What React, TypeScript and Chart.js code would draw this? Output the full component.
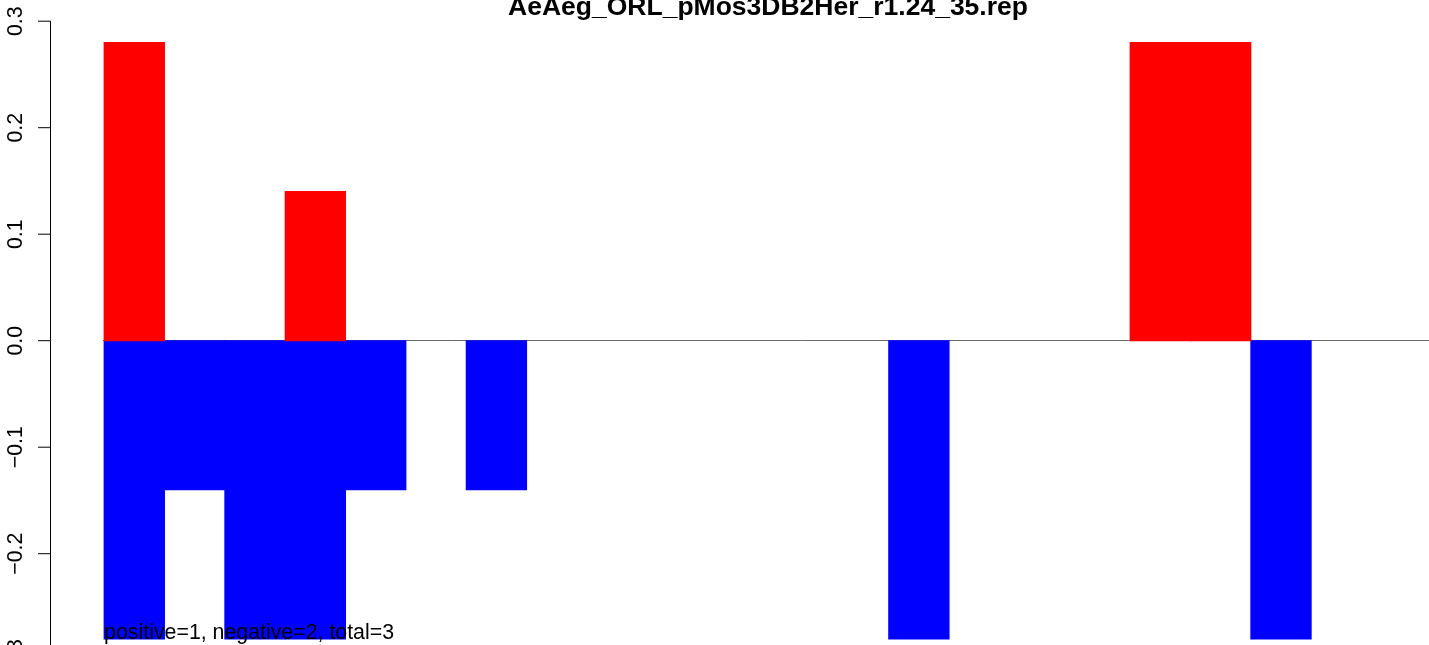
import React, { useEffect, useRef } from "react";
import { Chart, registerables } from "chart.js";

Chart.register(...registerables);

const categories = ["1", "2", "3", "4", "5", "6", "7", "8", "9", "10", "11", "12", "13", "14", "15", "16", "17", "18", "19", "20", "21", "22"];
const positiveValues = [0.28, 0, 0, 0.14, 0, 0, 0, 0, 0, 0, 0, 0, 0, 0, 0, 0, 0, 0.28, 0.28, 0, 0, 0];
const negativeValues = [-0.28, -0.14, -0.28, -0.28, -0.14, 0, -0.14, 0, 0, 0, 0, 0, 0, -0.28, 0, 0, 0, 0, 0, -0.28, 0, 0];
const yTickValues = [0.3, 0.2, 0.1, 0, -0.1, -0.2, -0.3];
const yTickLabels = ["0.3", "0.2", "0.1", "0.0", "\u22120.1", "\u22120.2", "\u22120.3"];
const titleText = "AeAeg_ORL_pMos3DB2Her_r1.24_35.rep";
const noteText = "positive=1, negative=2, total=3";
const noteY = -0.28;

const CW = 1500;
const CH = 700;
const FONT = "'Liberation Sans', Arial, Helvetica, sans-serif";

const rPlugin = {
  id: "rStyle",
  beforeDatasetsDraw(chart: any) {
    const ctx = chart.ctx;
    const xs = chart.scales.x;
    const ys = chart.scales.y;
    const y0 = Math.floor(ys.getPixelForValue(0)) + 0.5;
    ctx.save();
    ctx.strokeStyle = "#6a6a6a";
    ctx.lineWidth = 1;
    ctx.beginPath();
    ctx.moveTo(Math.floor(xs.getPixelForValue(0)) - 1, y0);
    ctx.lineTo(chart.width, y0);
    ctx.stroke();
    ctx.restore();
  },
  afterDraw(chart: any) {
    const ctx = chart.ctx;
    const xs = chart.scales.x;
    const ys = chart.scales.y;
    const axisX = chart.chartArea.left - 0.5;
    ctx.save();
    ctx.strokeStyle = "#000";
    ctx.lineWidth = 1;
    ctx.beginPath();
    ctx.moveTo(axisX, ys.getPixelForValue(yTickValues[0]));
    ctx.lineTo(axisX, ys.getPixelForValue(yTickValues[yTickValues.length - 1]));
    yTickValues.forEach((v) => {
      const py = ys.getPixelForValue(v);
      ctx.moveTo(axisX - 12.5, py);
      ctx.lineTo(axisX, py);
    });
    ctx.stroke();

    ctx.fillStyle = "#000";
    ctx.font = `21.33px ${FONT}`;
    ctx.textAlign = "center";
    ctx.textBaseline = "alphabetic";
    yTickValues.forEach((v, i) => {
      const py = ys.getPixelForValue(v);
      ctx.save();
      ctx.translate(21.5, py);
      ctx.rotate(-Math.PI / 2);
      ctx.fillText(yTickLabels[i], 0, 0);
      ctx.restore();
    });

    ctx.font = `bold 26.5px ${FONT}`;
    ctx.textAlign = "center";
    ctx.fillText(titleText, (chart.chartArea.left + chart.chartArea.right) / 2, 15);

    ctx.font = `21.33px ${FONT}`;
    ctx.textAlign = "left";
    ctx.fillText(noteText, xs.getPixelForValue(0), ys.getPixelForValue(noteY));
    ctx.restore();
  },
};

export default function App() {
  const ref = useRef<HTMLCanvasElement | null>(null);
  useEffect(() => {
    if (!ref.current) return;
    const toPoints = (arr: number[]) =>
      categories.map((_, i) => ({ x: i + 0.5, y: arr[i] === 0 ? null : arr[i] }));
    const chart = new Chart(ref.current, {
      type: "bar",
      data: {
        datasets: [
          {
            label: "positive",
            data: toPoints(positiveValues) as any,
            backgroundColor: "#ff0000",
            borderWidth: 0,
            inflateAmount: 0.5,
            grouped: false,
            barPercentage: 1,
            categoryPercentage: 1,
          },
          {
            label: "negative",
            data: toPoints(negativeValues) as any,
            backgroundColor: "#0000ff",
            borderWidth: 0,
            inflateAmount: 0.5,
            grouped: false,
            barPercentage: 1,
            categoryPercentage: 1,
          },
        ],
      },
      options: {
        responsive: false,
        maintainAspectRatio: false,
        animation: false,
        devicePixelRatio: 1,
        layout: { padding: { left: 51, right: CW - 1485, top: 21.2, bottom: CH - 692.15 } },
        plugins: { legend: { display: false }, title: { display: false }, tooltip: { enabled: false } },
        scales: {
          x: {
            type: "linear",
            offset: false,
            grid: { offset: false },
            min: -0.88,
            max: categories.length + 0.88,
            display: false,
            afterBuildTicks: (s: any) => {
              s.ticks = categories.map((_, i) => ({ value: i })).concat([{ value: categories.length }]);
            },
          },
          y: { type: "linear", min: -0.33, max: 0.3, display: false },
        },
      } as any,
      plugins: [rPlugin],
    });
    return () => chart.destroy();
  }, []);
  return (
    <div style={{ position: "fixed", left: 0, top: 0, width: 1429, height: 645, overflow: "hidden", background: "#fff" }}>
      <div style={{ position: "absolute", left: 0, top: 0, width: CW, height: CH }}>
        <canvas ref={ref} width={CW} height={CH} style={{ display: "block", width: CW, height: CH }} />
      </div>
    </div>
  );
}
